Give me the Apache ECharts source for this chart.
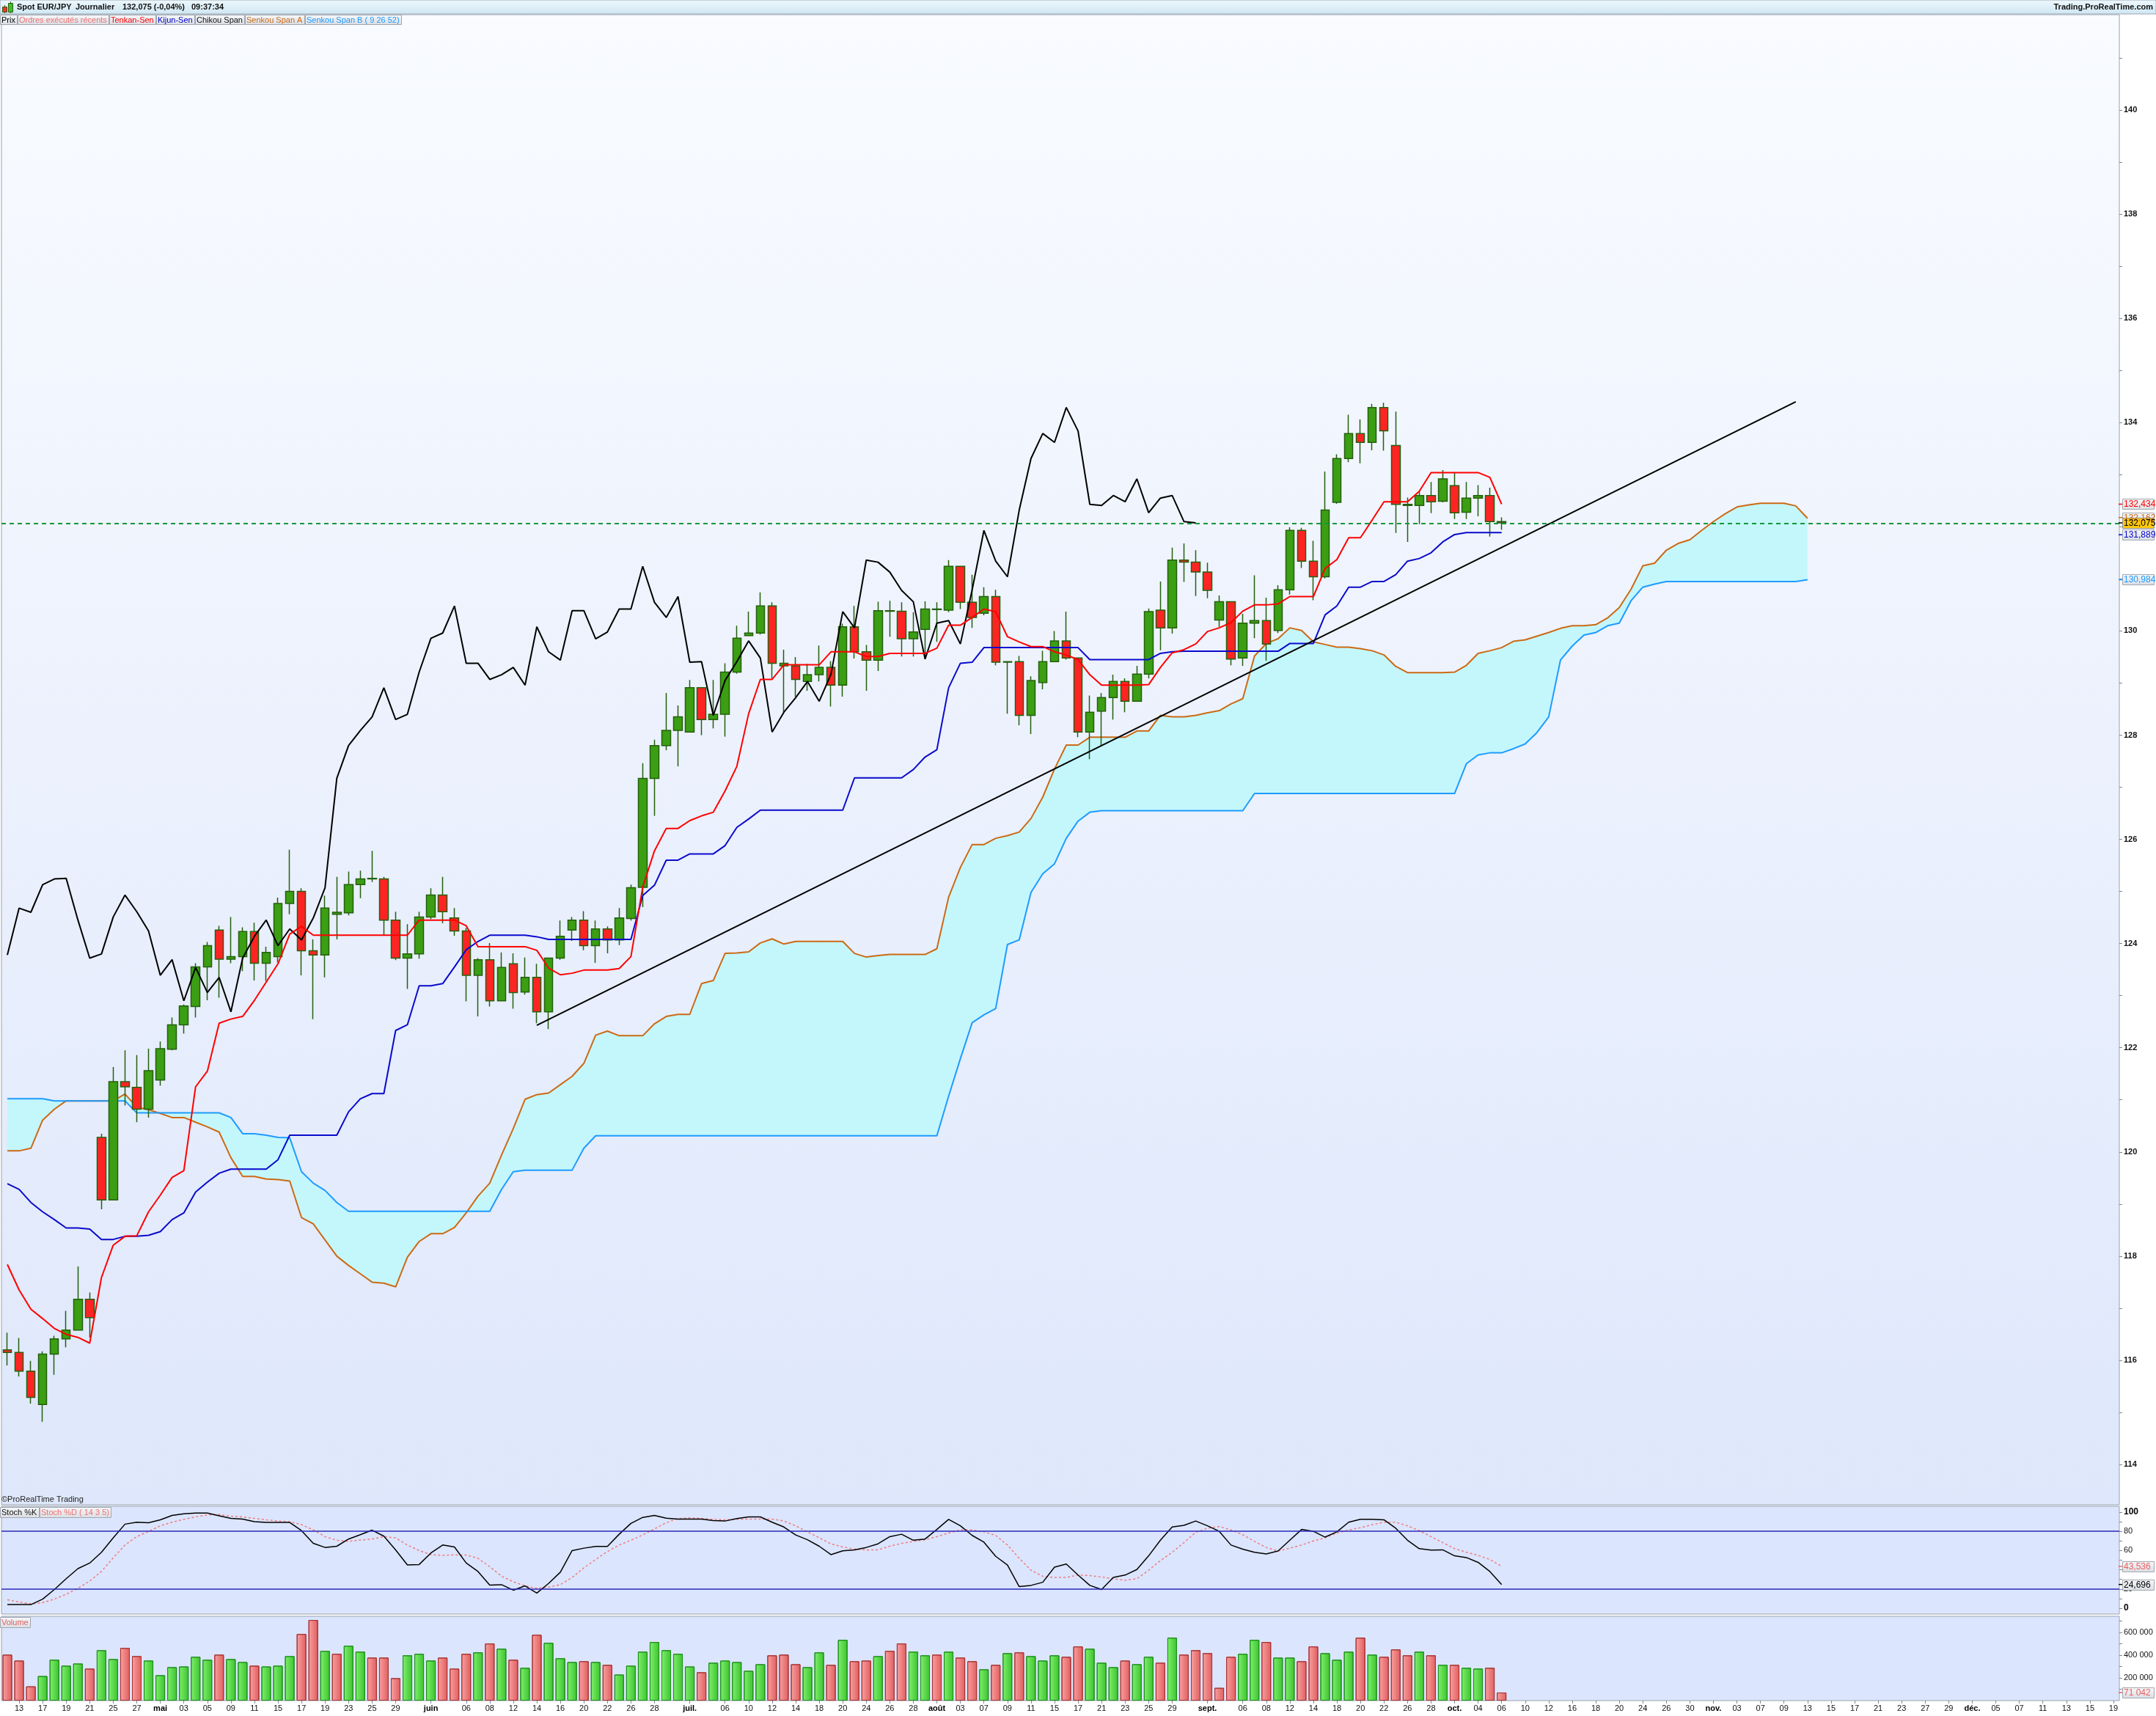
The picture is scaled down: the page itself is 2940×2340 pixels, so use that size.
<!DOCTYPE html>
<html><head><meta charset="utf-8">
<script src="https://cdn.jsdelivr.net/npm/echarts@6/dist/echarts.min.js"></script>
<style>html,body{margin:0;padding:0;background:#fff;}#c{width:2940px;height:2340px;}</style>
</head><body><div id="c"></div>
<script>
// ---------- DATA ----------
const firstDay = [2017, 3, 12];   // 12 avril 2017, daily bars, weekdays only
const dayCount = 180;             // 128 price bars + projection up to 19 déc.

const opens = [116.20,116.15,115.79,115.15,116.12,116.41,116.58,117.17,120.28,119.08,
121.35,121.24,120.82,121.38,121.97,122.44,122.79,123.55,124.26,123.70,
123.75,124.23,123.62,123.75,124.77,125.00,123.86,123.78,124.56,124.59,
125.13,125.24,125.24,124.45,123.72,123.80,124.51,124.93,124.49,124.24,
123.39,123.69,122.90,123.61,123.07,123.35,122.69,123.72,124.26,124.45,
123.96,124.28,124.07,124.48,125.08,127.17,127.80,128.09,128.06,128.91,
128.30,128.40,129.21,129.91,129.96,130.48,129.33,129.33,129.03,129.16,
129.30,128.96,130.08,129.60,129.44,130.38,130.38,129.85,130.03,130.41,
130.40,131.24,130.55,130.34,130.66,129.40,129.41,128.38,129.01,129.41,
129.81,129.48,128.06,128.46,128.72,129.03,128.65,129.17,130.40,130.06,
131.36,131.32,131.13,130.21,130.56,129.48,130.15,130.20,130.01,130.79,
131.93,131.34,131.04,132.47,133.31,133.79,133.62,134.29,133.56,132.43,
132.41,132.60,132.49,132.79,132.28,132.55,132.60,132.10];
const highs = [116.53,116.43,115.99,116.17,116.47,116.95,117.80,117.30,120.35,121.63,
121.95,121.86,121.98,122.12,122.58,122.83,123.62,124.03,124.34,124.51,
124.31,124.40,123.94,124.88,125.80,125.06,124.08,124.92,125.28,125.38,
125.40,125.78,125.28,124.61,124.37,124.61,125.06,125.28,124.68,124.30,
123.72,124.01,123.83,123.81,123.73,123.61,123.72,124.44,124.51,124.62,
124.44,124.33,124.68,125.13,127.46,127.91,128.81,128.57,129.06,128.91,
129.06,129.38,130.10,130.37,130.74,130.55,129.64,129.50,129.37,129.72,
129.42,130.14,130.48,129.73,130.56,130.58,130.55,130.36,130.57,130.55,
131.36,131.24,131.08,130.84,130.79,129.42,129.52,129.13,129.62,130.00,
130.37,129.48,128.76,128.81,129.16,129.09,129.33,130.43,130.95,131.60,
131.68,131.55,131.31,130.68,130.56,130.33,131.07,130.64,130.88,131.99,
131.98,131.73,133.06,133.39,134.15,134.06,134.36,134.38,134.21,132.56,
132.68,132.86,133.09,133.05,132.86,132.80,132.75,132.18];
const lows = [115.90,115.69,115.17,114.82,115.72,116.25,116.57,116.44,118.90,119.08,
120.89,120.57,120.66,121.27,121.95,122.27,122.58,122.91,122.96,123.62,
123.47,123.29,123.28,123.64,124.56,123.39,122.55,123.35,124.08,124.54,
124.87,125.18,124.16,123.68,123.13,123.71,124.47,124.39,124.15,122.89,
122.60,122.79,122.89,122.75,123.02,122.47,122.36,123.69,124.05,123.87,
123.63,123.81,123.97,124.44,124.70,126.45,127.71,127.40,128.05,128.00,
128.13,127.97,129.18,129.91,129.93,129.09,128.44,128.74,128.85,129.03,
128.55,128.74,129.47,128.85,129.23,129.89,129.51,129.51,129.48,129.79,
130.36,130.42,130.06,130.30,129.34,128.41,128.19,128.02,128.88,129.41,
129.45,127.96,127.54,127.79,128.30,128.44,128.65,129.09,129.63,129.95,
130.94,130.67,130.63,130.08,129.34,129.33,129.86,129.43,129.96,130.70,
131.21,130.59,131.01,132.44,133.24,133.22,133.47,133.46,131.88,131.71,
132.05,132.26,132.47,132.15,132.15,132.20,131.81,131.94];
const closes = [116.15,115.79,115.29,116.12,116.41,116.58,117.17,116.82,119.08,121.35,
121.25,120.82,121.56,121.98,122.44,122.80,123.55,123.96,123.70,123.75,
124.23,123.62,123.83,124.77,125.00,123.86,123.78,124.68,124.60,125.13,
125.24,125.25,124.45,123.72,123.80,124.51,124.93,124.61,124.24,123.39,
123.69,122.90,123.54,123.06,123.35,122.69,123.72,124.14,124.45,123.96,
124.28,124.07,124.49,125.07,127.17,127.80,128.09,128.35,128.91,128.30,
128.40,129.21,129.86,129.96,130.48,129.38,129.38,129.07,129.16,129.30,
128.96,130.08,129.60,129.44,130.39,130.39,129.85,129.98,130.42,130.42,
131.24,130.55,130.26,130.66,129.40,129.41,128.38,129.05,129.41,129.81,
129.48,128.06,128.44,128.72,129.03,128.65,129.17,130.37,130.06,131.36,
131.32,131.13,130.78,130.56,129.46,130.15,130.20,129.75,130.79,131.93,
131.34,131.04,132.32,133.31,133.79,133.62,134.29,133.84,132.43,132.41,
132.60,132.48,132.92,132.27,132.55,132.60,132.10,132.075];

const tenkan = [117.84,117.35,116.98,116.80,116.61,116.50,116.44,116.33,117.59,118.21,
118.38,118.39,118.85,119.17,119.51,119.64,121.25,121.55,122.47,122.55,
122.60,122.91,123.26,123.61,124.18,124.33,124.16,124.16,124.16,124.16,
124.16,124.16,124.16,124.16,124.16,124.45,124.45,124.45,124.45,124.34,
123.94,123.94,123.94,123.94,123.94,123.87,123.53,123.40,123.43,123.49,
123.49,123.49,123.52,123.75,125.08,125.78,126.21,126.21,126.36,126.45,
126.52,126.93,127.40,128.41,129.07,129.07,129.35,129.35,129.35,129.35,
129.60,129.60,129.60,129.51,129.51,129.57,129.57,129.57,129.57,129.67,
130.11,130.11,130.26,130.42,130.37,129.89,129.79,129.70,129.70,129.60,
129.54,129.45,129.16,128.96,128.96,128.96,128.96,128.97,129.30,129.58,
129.64,129.75,129.99,130.06,130.16,130.38,130.50,130.50,130.52,130.66,
130.66,130.66,131.20,131.37,131.79,131.79,132.13,132.48,132.48,132.48,
132.68,133.04,133.04,133.04,133.04,133.04,132.95,132.434];
const kijun = [119.39,119.28,119.03,118.85,118.70,118.54,118.54,118.52,118.32,118.32,
118.38,118.38,118.40,118.47,118.70,118.83,119.23,119.42,119.59,119.67,
119.67,119.67,119.67,119.85,120.32,120.32,120.32,120.32,120.32,120.77,
121.02,121.12,121.12,122.33,122.44,123.19,123.19,123.23,123.55,123.88,
124.04,124.16,124.16,124.16,124.16,124.13,124.08,124.08,124.08,124.08,
124.08,124.08,124.08,124.08,124.92,125.12,125.60,125.60,125.72,125.72,
125.72,125.88,126.23,126.39,126.56,126.56,126.56,126.56,126.56,126.56,
126.56,126.56,127.18,127.18,127.18,127.18,127.18,127.34,127.58,127.72,
128.91,129.38,129.40,129.68,129.68,129.68,129.68,129.68,129.68,129.68,
129.68,129.68,129.45,129.45,129.45,129.45,129.45,129.45,129.57,129.60,
129.61,129.61,129.61,129.61,129.61,129.61,129.61,129.61,129.61,129.76,
129.76,129.76,130.31,130.48,130.84,130.84,130.95,130.95,131.08,131.34,
131.39,131.50,131.71,131.85,131.889,131.889,131.889,131.889];
const senkouA = [120.02,120.02,120.07,120.61,120.82,120.98,120.98,120.98,120.98,120.98,
121.11,120.86,120.81,120.74,120.66,120.66,120.57,120.48,120.38,119.89,
119.53,119.53,119.48,119.47,119.44,118.74,118.62,118.31,118.00,117.82,
117.66,117.50,117.48,117.41,117.98,118.28,118.43,118.43,118.55,118.83,
119.15,119.40,119.94,120.45,121.01,121.10,121.13,121.29,121.45,121.70,
122.24,122.32,122.23,122.23,122.23,122.46,122.60,122.64,122.64,123.23,
123.29,123.81,123.82,123.84,124.01,124.09,123.99,124.04,124.04,124.04,
124.04,124.04,123.81,123.74,123.77,123.79,123.79,123.79,123.79,123.90,
124.89,125.46,125.90,125.90,126.02,126.07,126.14,126.40,126.81,127.35,
127.81,127.81,127.96,127.96,127.96,127.96,128.08,128.08,128.38,128.35,
128.35,128.38,128.43,128.47,128.60,128.70,129.52,129.76,129.85,130.06,
130.01,129.79,129.74,129.69,129.69,129.66,129.62,129.54,129.32,129.20,
129.20,129.20,129.20,129.21,129.34,129.57,129.62,129.68,129.80,129.83,
129.90,129.97,130.05,130.10,130.10,130.12,130.25,130.45,130.80,131.25,
131.30,131.55,131.68,131.75,131.93,132.10,132.25,132.38,132.42,132.45,
132.45,132.45,132.40,132.162];
const senkouB = [121.02,121.02,121.02,121.02,120.98,120.98,120.98,120.98,120.98,120.98,
120.98,120.75,120.75,120.75,120.75,120.75,120.75,120.75,120.75,120.66,
120.35,120.35,120.32,120.28,120.27,119.62,119.40,119.26,119.03,118.86,
118.86,118.86,118.86,118.86,118.86,118.86,118.86,118.86,118.86,118.86,
118.86,118.86,119.28,119.62,119.65,119.65,119.65,119.65,119.65,120.07,
120.31,120.31,120.31,120.31,120.31,120.31,120.31,120.31,120.31,120.31,
120.31,120.31,120.31,120.31,120.31,120.31,120.31,120.31,120.31,120.31,
120.31,120.31,120.31,120.31,120.31,120.31,120.31,120.31,120.31,120.31,
121.07,121.79,122.48,122.63,122.75,123.98,124.07,124.98,125.34,125.53,
126.02,126.35,126.52,126.55,126.55,126.55,126.55,126.55,126.55,126.55,
126.55,126.55,126.55,126.55,126.55,126.55,126.88,126.88,126.88,126.88,
126.88,126.88,126.88,126.88,126.88,126.88,126.88,126.88,126.88,126.88,
126.88,126.88,126.88,126.88,127.45,127.62,127.66,127.66,127.74,127.83,
128.05,128.35,129.44,129.71,129.92,129.97,130.10,130.15,130.58,130.84,
130.90,130.95,130.95,130.95,130.95,130.95,130.95,130.95,130.95,130.95,
130.95,130.95,130.95,130.984];
const chikouShift = 26;
const trendPoints = [[45, 122.43], [152, 134.40]];

const stochK = [3.75,3.75,3.75,9.5,19.5,30.75,41.25,47,58.25,73.25,
87.5,89.5,89,92,96.5,98.25,99,99,96.25,93.5,
92.75,90,89.25,89.25,89.25,80.75,67.5,63.25,64.5,72,
76.5,81.25,75,60.75,45,45.5,57.5,65.75,63.75,47,
38.25,24,24.5,18.75,23.25,15.75,25.75,37.5,60,62.5,
64.25,64.25,77,88.25,94.5,96.5,93.75,92.75,92.75,92.75,
91.25,90.75,93.25,95,95,89.5,84.5,76.25,71.25,64.5,
55.75,59.75,60.75,63.25,67,74.5,77,70.75,72,82,
92.5,85.75,75.75,68.75,54,45,22.5,23.75,27,42.75,
46,34.5,23.75,19.5,32,34.5,40.25,54.5,70.75,84.5,
86.25,90.75,85.75,80,65.75,61.5,58.25,56.5,59.5,70.75,
82,80,74,79.5,89.5,92.5,92.5,92,83.25,70.75,
62,60.5,60.75,54.5,52.75,47.75,38.25,24.696];
const stochD = [8.75,6.5,4.5,5.75,9.5,14.5,20.75,28.25,38.25,52.5,
65.75,74.5,80,85.75,89.5,92.5,95.25,97,97.5,95.75,
95,93.5,92,90.75,90,87,81.5,74.5,70.75,69.5,
71,72,74.5,73.25,65.75,60,55.75,55,55.5,55.25,
52,43.25,33.25,27.5,23.25,20.75,22,24.5,32,42,
50.75,59,65.75,70.75,76.25,82.5,89,93.25,94,93.5,
92.5,92,92.5,92.75,92.75,92.75,90.75,85.75,79.5,73.25,
67,63.75,61.5,60.5,60.75,64.5,67.5,69.5,71.25,74.5,
78.25,81.5,81.5,79.5,75.75,65.75,52,39.5,33.25,32,
32,34.5,34,32.5,30.75,29,30.75,39.5,49.5,58.25,
68.25,79,83.25,85,81.5,76.5,69.5,63.25,59.5,62.5,
65.75,70,73.25,78.25,81.5,83.75,87,89.5,89.5,85.75,
80.75,74.5,68.25,62,58.25,55,50.75,43.536];
const stochLevels = [80, 20];

const volumes = [404000,352000,125000,216000,359000,307000,326000,281000,443000,365000,
463000,391000,352000,223000,294000,300000,385000,359000,404000,365000,
339000,307000,300000,307000,391000,586000,709000,437000,411000,482000,
430000,378000,378000,197000,398000,411000,352000,378000,281000,411000,
424000,502000,456000,359000,288000,579000,508000,372000,339000,346000,
339000,314000,229000,307000,430000,515000,443000,411000,300000,249000,
333000,352000,339000,262000,320000,398000,404000,320000,294000,424000,
314000,534000,346000,352000,391000,437000,502000,430000,398000,404000,
430000,378000,346000,275000,314000,417000,424000,391000,352000,398000,
385000,476000,456000,333000,294000,352000,320000,385000,333000,553000,
404000,443000,417000,112000,385000,411000,534000,515000,378000,378000,
346000,476000,417000,359000,430000,553000,404000,385000,450000,398000,
430000,398000,314000,314000,288000,281000,288000,71042];
// 1 = green (up) volume bar, 0 = red (down) volume bar
const volumeUp = [0,0,0,1,1,1,1,0,1,1, 0,0,1,1,1,1,1,1,0,1, 1,0,1,1,1,0,0,1,0,1,
1,0,0,0,1,1,1,0,0,0, 1,0,1,0,1,0,1,1,1,0, 1,0,1,1,1,1,1,1,1,0,
1,1,1,1,1,0,0,0,1,1, 0,1,0,0,1,0,0,1,1,0, 1,0,0,1,0,1,0,1,1,1,
0,0,1,1,1,0,1,1,0,1, 0,0,0,0,0,1,1,0,1,1, 0,0,1,1,1,0,1,0,0,0,
1,0,1,0,1,1,0,0];

const lastValues = {tenkan:132.434, spanA:132.162, price:132.075, kijun:131.889, spanB:130.984,
  stochD:43.536, stochK:24.696, volume:71042};

const priceTicks = [114,116,118,120,122,124,126,128,130,132,134,136,138,140];
const stochTicks = [0,20,40,60,80,100];
const volumeTicks = [200000,400000,600000];
const tickDays = ['04-13','04-17','04-19','04-21','04-25','04-27','05-01','05-03','05-05','05-09','05-11',
'05-15','05-17','05-19','05-23','05-25','05-29','06-01','06-06','06-08','06-12','06-14','06-16','06-20',
'06-22','06-26','06-28','07-03','07-06','07-10','07-12','07-14','07-18','07-20','07-24','07-26','07-28',
'08-01','08-03','08-07','08-09','08-11','08-15','08-17','08-21','08-23','08-25','08-29','09-01','09-06',
'09-08','09-12','09-14','09-18','09-20','09-22','09-26','09-28','10-02','10-04','10-06','10-10','10-12',
'10-16','10-18','10-20','10-24','10-26','10-30','11-01','11-03','11-07','11-09','11-13','11-15','11-17',
'11-21','11-23','11-27','11-29','12-01','12-05','12-07','12-11','12-13','12-15','12-19'];
const monthStartLabels = {'05-01':'mai','06-01':'juin','07-03':'juil.','08-01':'août','09-01':'sept.',
'10-02':'oct.','11-01':'nov.','12-01':'déc.'};

// ---------- BUILD ----------
function buildDates(){
  const out = []; const d = new Date(Date.UTC(firstDay[0], firstDay[1], firstDay[2]));
  while (out.length < dayCount) {
    const w = d.getUTCDay();
    if (w !== 0 && w !== 6) out.push(d.toISOString().slice(0,10));
    d.setUTCDate(d.getUTCDate() + 1);
  }
  return out;
}
const dates = buildDates();
const tickSet = new Set(tickDays);
const candleData = opens.map((o,i)=>[o, closes[i], lows[i], highs[i]]);
const chikou = closes.slice(chikouShift);
const cloudBase = senkouA.map((a,i)=>Math.min(a, senkouB[i]));
const cloudBand = senkouA.map((a,i)=>Math.abs(a - senkouB[i]));

const G = echarts.graphic;
const NARROW = "'Liberation Sans Narrow','Liberation Sans',Arial,sans-serif";
const SANS = "'Liberation Sans',Arial,sans-serif";

const volItems = volumes.map((v,i)=>({
  value: v,
  itemStyle: volumeUp[i]
    ? {color: new G.LinearGradient(0,0,1,0,[{offset:0,color:'#7ff06c'},{offset:1,color:'#3cc22e'}]), borderColor:'#1d8f1d', borderWidth:1}
    : {color: new G.LinearGradient(0,0,1,0,[{offset:0,color:'#f9a0a0'},{offset:1,color:'#e05e5e'}]), borderColor:'#a83232', borderWidth:1}
}));

const L = 2, W = 2888;
const grids = [
  {left:L, width:W, top:20, height:2032},
  {left:L, width:W, top:2054, height:147},
  {left:L, width:W, top:2204, height:115}
].map((g,i)=>Object.assign(g, {show:true, borderColor:'#98a2ad', borderWidth:1, containLabel:false, outerBoundsMode:'none',
  backgroundColor: i===0 ? new G.LinearGradient(0,0,0,1,[{offset:0,color:'#f9fbff'},{offset:1,color:'#dee7fb'}]) : '#dbe5fd'}));

function xAx(i){
  const isBottom = i === 2;
  return {type:'category', gridIndex:i, data:dates, boundaryGap:true,
    axisLine:{show:false},
    axisTick:{show:isBottom, alignWithLabel:true, length:4, lineStyle:{color:'#7d8790'},
      interval:(idx,val)=>tickSet.has(String(val).slice(5))},
    axisLabel:{show:isBottom, margin:5, fontSize:11, color:'#111', fontFamily:NARROW,
      interval:(idx,val)=>tickSet.has(String(val).slice(5)),
      formatter:(val)=>{const k=val.slice(5); return monthStartLabels[k] ? '{b|'+monthStartLabels[k]+'}' : k.slice(3);},
      rich:{b:{fontWeight:'bold', fontSize:11, fontFamily:NARROW, color:'#000'}}},
    splitLine:{show:false}};
}
const fmtSpace = v => String(v).replace(/\B(?=(\d{3})+(?!\d))/g,' ');

const option = {
  animation:false,
  backgroundColor:'#ffffff',
  grid: grids,
  xAxis: [xAx(0), xAx(1), xAx(2)],
  yAxis: [
    {type:'value', gridIndex:0, position:'right', min:113.226, max:141.83,
      axisLine:{show:false}, splitLine:{show:false},
      axisTick:{show:true, length:4, lineStyle:{color:'#7d8790'}, customValues:[114,115,116,117,118,119,120,121,122,123,124,125,126,127,128,129,130,131,132,133,134,135,136,137,138,139,140,141]},
      axisLabel:{margin:6, fontSize:11, fontWeight:'bold', color:'#111', fontFamily:NARROW, customValues:priceTicks}},
    {type:'value', gridIndex:1, position:'right', min:-6.1, max:106.1,
      axisLine:{show:false}, splitLine:{show:false},
      axisTick:{show:true, length:4, lineStyle:{color:'#7d8790'}, customValues:[0,10,20,30,40,50,60,70,80,90,100]},
      axisLabel:{margin:6, fontSize:11, color:'#111', fontFamily:NARROW, customValues:stochTicks,
        formatter:v=>(v===0||v===100)?'{b|'+v+'}':String(v), rich:{b:{fontWeight:'bold',fontSize:12,fontFamily:NARROW,color:'#000'}}}},
    {type:'value', gridIndex:2, position:'right', min:0, max:742000,
      axisLine:{show:false}, splitLine:{show:false},
      axisTick:{show:true, length:4, lineStyle:{color:'#7d8790'}, customValues:[100000,200000,300000,400000,500000,600000,700000]},
      axisLabel:{margin:6, fontSize:11, color:'#111', fontFamily:NARROW, customValues:volumeTicks, formatter:fmtSpace}}
  ],
  series: [
    {name:'cloudBase', type:'line', xAxisIndex:0, yAxisIndex:0, data:cloudBase, stack:'cloud', symbol:'none', silent:true,
      lineStyle:{opacity:0}, z:1},
    {name:'cloudBand', type:'line', xAxisIndex:0, yAxisIndex:0, data:cloudBand, stack:'cloud', symbol:'none', silent:true,
      lineStyle:{opacity:0}, areaStyle:{color:'#c3f7fc', opacity:1}, z:1},
    {name:'Senkou Span A', type:'line', xAxisIndex:0, yAxisIndex:0, data:senkouA, symbol:'none', silent:true,
      lineStyle:{color:'#cc6a14', width:2}, z:2},
    {name:'Senkou Span B', type:'line', xAxisIndex:0, yAxisIndex:0, data:senkouB, symbol:'none', silent:true,
      lineStyle:{color:'#1e9bff', width:2}, z:2},
    {name:'Prix', type:'candlestick', xAxisIndex:0, yAxisIndex:0, data:candleData, barWidth:12, z:3,
      itemStyle:{color:'#3b9e13', color0:'#ff2424', borderColor:'#24600d', borderColor0:'#24600d', borderWidth:1.5},
      markLine:{silent:true, symbol:'none', label:{show:false}, z:6,
        lineStyle:{color:'#12973a', type:[6,5], width:2}, data:[{yAxis:lastValues.price}]}},
    {name:'Chikou Span', type:'line', xAxisIndex:0, yAxisIndex:0, data:chikou, symbol:'none', silent:true,
      lineStyle:{color:'#000000', width:2}, z:4},
    {name:'Kijun-Sen', type:'line', xAxisIndex:0, yAxisIndex:0, data:kijun, symbol:'none', silent:true,
      lineStyle:{color:'#0a0acc', width:2}, z:4},
    {name:'Tenkan-Sen', type:'line', xAxisIndex:0, yAxisIndex:0, data:tenkan, symbol:'none', silent:true,
      lineStyle:{color:'#ff0000', width:2}, z:4},
    {name:'trend', type:'line', xAxisIndex:0, yAxisIndex:0, data:trendPoints.map(p=>[dates[p[0]], p[1]]), symbol:'none', silent:true,
      lineStyle:{color:'#000000', width:2}, z:5},
    {name:'Stoch %D', type:'line', xAxisIndex:1, yAxisIndex:1, data:stochD, symbol:'none', silent:true,
      lineStyle:{color:'#ef7d7d', width:1.5, type:[3,3]}, z:3},
    {name:'Stoch %K', type:'line', xAxisIndex:1, yAxisIndex:1, data:stochK, symbol:'none', silent:true,
      lineStyle:{color:'#000000', width:1.5}, z:4,
      markLine:{silent:true, symbol:'none', label:{show:false}, lineStyle:{color:'#2a2ab8', width:1.5, type:'solid'},
        data:stochLevels.map(v=>({yAxis:v}))}},
    {name:'Volume', type:'bar', xAxisIndex:2, yAxisIndex:2, data:volItems, barWidth:13, silent:true}
  ]
};

const chart = echarts.init(document.getElementById('c'), null, {renderer:'canvas'});
chart.setOption(option);

// ---------- overlay texts ----------
const measureCtx = document.createElement('canvas').getContext('2d');
function textW(txt, font){ measureCtx.font = font; return measureCtx.measureText(txt).width; }
const gfx = [];
function box(x, y, w, h, txt, color, opts){
  opts = opts || {};
  gfx.push({type:'rect', z:100, shape:{x:x+0.5, y:y+0.5, width:w, height:h},
    style:{fill: opts.fill || new G.LinearGradient(0,0,0,1,[{offset:0,color:'#f7f8fa'},{offset:1,color:'#d9dde3'}]), stroke: opts.stroke || '#a2a8b0', lineWidth:1}});
  gfx.push({type:'text', z:101, x:x+2, y:y+h/2+1, style:{text:txt, fill:color, font:(opts.font||('11px '+SANS)), verticalAlign:'middle', align:'left'}});
}
function boxRow(x, y, h, items, font){
  items.forEach(it=>{
    const w = Math.ceil(textW(it[0], font)) + 4;
    box(x, y, w, h, it[0], it[1], {font:font});
    x += w + 1;
  });
}
// header
gfx.push({type:'rect', z:100, shape:{x:0,y:0,width:2940,height:19},
  style:{fill:new G.LinearGradient(0,0,0,1,[{offset:0,color:'#eef8fd'},{offset:1,color:'#cfe6f3'}]), stroke:'#9aa8b4', lineWidth:1}});
gfx.push({type:'line', z:101, shape:{x1:6.5,y1:7,x2:6.5,y2:18}, style:{stroke:'#2b5e10', lineWidth:1}});
gfx.push({type:'rect', z:102, shape:{x:3.5,y:9.5,width:6,height:7}, style:{fill:'#ff3030', stroke:'#2b5e10', lineWidth:1}});
gfx.push({type:'line', z:101, shape:{x1:14.5,y1:2,x2:14.5,y2:18}, style:{stroke:'#2b5e10', lineWidth:1}});
gfx.push({type:'rect', z:102, shape:{x:11.5,y:4.5,width:6,height:12}, style:{fill:'#3fbf2a', stroke:'#2b5e10', lineWidth:1}});
[['Spot EUR/JPY',23],['Journalier',103],['132,075 (-0,04%)',167],['09:37:34',261]].forEach(t=>{
  gfx.push({type:'text', z:101, x:t[1], y:10, style:{text:t[0], fill:'#111', font:'bold 11px '+SANS, verticalAlign:'middle'}});
});
gfx.push({type:'text', z:101, x:2936, y:10, style:{text:'Trading.ProRealTime.com', fill:'#111', font:'bold 11px '+SANS, verticalAlign:'middle', align:'right'}});
// legend row
boxRow(0, 20, 13, [['Prix','#000'],['Ordres exécutés récents','#f07070'],['Tenkan-Sen','#ff0000'],
 ['Kijun-Sen','#0000cc'],['Chikou Span','#111'],['Senkou Span A','#cc6a14'],
 ['Senkou Span B ( 9 26 52)','#1e9bff']], '11px '+NARROW);
gfx.push({type:'text', z:101, x:2, y:2045, style:{text:'©ProRealTime Trading', fill:'#222', font:'11px '+NARROW, verticalAlign:'middle'}});
boxRow(0, 2055, 14, [['Stoch %K','#111'],['Stoch %D ( 14 3 5)','#ef7070']], '11px '+NARROW);
boxRow(0, 2205, 14, [['Volume','#e06060']], '11px '+NARROW);

// right-axis value boxes
function valueBox(axisIdx, value, text, color, dy, special){
  const y = chart.convertToPixel({yAxisIndex:axisIdx}, value) + (dy||0);
  gfx.push({type:'line', z:100, shape:{x1:2889,y1:y,x2:2894,y2:y}, style:{stroke:color, lineWidth:1.5}});
  box(2894, Math.round(y-7), 43, 14, text, special ? '#000' : color,
    special ? {fill:'#ffc90e', stroke:'#8c8c8c', font:'12px '+NARROW} : {font:'12px '+NARROW});
}
const fr = (v,d)=>v.toFixed(d).replace('.',',');
valueBox(0, lastValues.tenkan, fr(lastValues.tenkan,3), '#ff0000');
valueBox(0, lastValues.spanA, fr(lastValues.spanA,3), '#cc6a14', -1);
valueBox(0, lastValues.price, fr(lastValues.price,3), '#000000', 0, true);
valueBox(0, lastValues.kijun, fr(lastValues.kijun,3), '#0000cc', 3);
valueBox(0, lastValues.spanB, fr(lastValues.spanB,3), '#1e9bff');
valueBox(1, lastValues.stochD, fr(lastValues.stochD,3), '#ef6060');
valueBox(1, lastValues.stochK, fr(lastValues.stochK,3), '#000000');
valueBox(2, lastValues.volume, fmtSpace(lastValues.volume), '#ef6060');

chart.setOption({graphic: gfx});
</script>
</body></html>
